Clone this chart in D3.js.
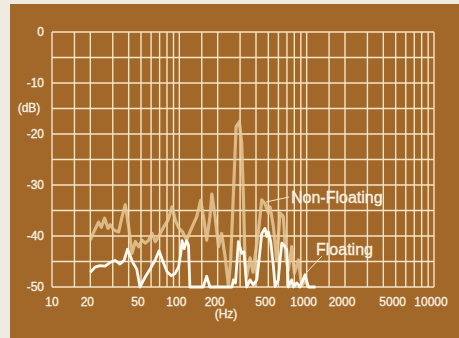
<!DOCTYPE html>
<html>
<head>
<meta charset="utf-8">
<script src="https://cdn.jsdelivr.net/npm/d3@7"></script>
<style>
  html, body { margin: 0; padding: 0; background: #eeebe3; }
  svg { display: block; }
  text { font-family: "Liberation Sans", Arial, sans-serif; fill: #fbf3e4; stroke: #fbf3e4; stroke-width: 0.3; }
</style>
</head>
<body>
<svg id="chart" width="459" height="338"></svg>
<script>
// tick labels
const xTickLabels = [10, 20, 50, 100, 200, 500, 1000, 2000, 5000, 10000];
const yTickLabels = [0, -10, -20, -30, -40, -50];
const yGrid = [0, -5, -10, -15, -20, -25, -30, -35, -40, -45, -50];
const xGrid = [10, 15, 20, 30, 40, 50, 60, 70, 80, 90,
               100, 150, 200, 300, 400, 500, 600, 700, 800, 900,
               1000, 1500, 2000, 3000, 4000, 5000, 6000, 7000, 8000, 9000, 10000];

// Non-Floating series (Hz, dB)
const nonFloatFreq = [20, 21.3, 23.2, 24.4, 25.9, 27.5, 28.7, 30.5, 33.4, 35.5, 37.6, 40, 42.5, 45.1, 48, 50.9,
  54.1, 57.5, 61, 64.8, 68.9, 75.4, 81.5, 87.6, 93, 98.9, 106, 114, 124, 137, 147, 155, 164, 174, 180,
  191, 203, 215, 229, 243, 253, 266, 279, 296, 309, 318, 328, 338, 359, 379, 400, 419, 444, 471, 500,
  516, 548, 582, 618, 656, 689, 718, 764, 801, 861, 915, 971, 1031];
const nonFloatDb = [-40.8, -39.2, -37.3, -38.3, -36.5, -38.5, -37.8, -38.8, -39.2, -36.2, -33.9, -38.2, -43.4, -41.1, -42.1, -40.8,
  -41.4, -40.8, -39.5, -41.1, -40.1, -38.2, -36.9, -34.3, -36.9, -38.4, -39.2, -40.8, -38.6, -36.2, -33.0, -36.3, -40.8, -36.2, -31.8,
  -36.2, -42.1, -39.5, -44.1, -49.8, -44.7, -31.6, -18.6, -17.6, -21.8, -31.6, -44.7, -48.0, -44.3, -47.1, -42.7, -38.8, -32.9, -33.7, -35.5,
  -34.3, -38.2, -44.7, -35.5, -36.2, -44.7, -46.7, -42.1, -47.3, -44.7, -49.9, -48.6, -50];

// Floating series (Hz, dB)
const floatFreq = [20, 21.8, 23.8, 26.1, 28.5, 31.3, 34.2, 36.8, 39.2, 43.1, 46.3, 49.1, 53.8, 58.9, 64.4, 69.3,
  75.2, 80.1, 86.5, 93, 98.9, 103, 105, 109, 114, 118, 121, 154, 164, 174, 259, 266, 276, 291, 309, 322,
  338, 359, 381, 406, 425, 444, 471, 486, 500, 522, 548, 565, 599, 618, 638, 664, 698, 718, 764, 786,
  836, 887, 971, 1031, 1175];
const floatDb = [-47.1, -46.1, -45.8, -45.9, -45.2, -44.8, -45.5, -44.8, -42.6, -45.2, -46.5, -50, -48.1, -46.5, -44.8, -42.9,
  -45.3, -47.0, -47.8, -47.3, -46.0, -43.1, -40.9, -42.5, -40.9, -41.8, -50, -50, -47.9, -50, -50, -48.6, -49.2, -41.1, -43.4, -43.1,
  -50, -48.6, -49.6, -48.6, -44.1, -39.5, -38.5, -40.1, -39.2, -41.1, -46.0, -49.9, -48.6, -44.7, -41.4, -41.8, -42.7, -50, -48.6, -50,
  -49.2, -50, -47.6, -50, -50];

const GRID = '#f6e5c6';
const BROWN = '#a16829';

const svg = d3.select('#chart');

// brown card
svg.append('rect')
    .attr('x', 10).attr('y', 4)
    .attr('width', 449).attr('height', 334)
    .attr('fill', BROWN);

const x = d3.scaleLog().domain([10, 10000]).range([52, 434]);
const y = d3.scaleLinear().domain([-50, 0]).range([287, 32]);

// grid
const grid = svg.append('g').attr('id', 'grid');
grid.selectAll('line.h')
    .data(yGrid)
    .enter()
    .append('line')
    .attr('class', 'h')
    .attr('x1', x(10)).attr('x2', x(10000))
    .attr('y1', d => y(d)).attr('y2', d => y(d))
    .attr('stroke', GRID)
    .attr('stroke-width', 1.4);

grid.selectAll('line.v')
    .data(xGrid)
    .enter()
    .append('line')
    .attr('class', 'v')
    .attr('x1', d => x(d)).attr('x2', d => x(d))
    .attr('y1', y(0)).attr('y2', y(-50))
    .attr('stroke', GRID)
    .attr('stroke-width', 1.4);

// tick labels
svg.append('g')
    .selectAll('text')
    .data(yTickLabels)
    .enter()
    .append('text')
    .attr('x', 44)
    .attr('y', d => y(d))
    .attr('text-anchor', 'end')
    .attr('dominant-baseline', 'central')
    .attr('font-size', 12)
    .text(d => d === 0 ? '0' : '-' + Math.abs(d));

svg.append('g')
    .selectAll('text')
    .data(xTickLabels)
    .enter()
    .append('text')
    .attr('x', d => d === 10 ? x(d) : x(d) - 3)
    .attr('y', 302)
    .attr('text-anchor', 'middle')
    .attr('dominant-baseline', 'central')
    .attr('font-size', 12)
    .text(d => d);

svg.append('text')
    .attr('x', 29).attr('y', 108)
    .attr('text-anchor', 'middle')
    .attr('dominant-baseline', 'central')
    .attr('font-size', 12)
    .text('(dB)');

svg.append('text')
    .attr('x', 226).attr('y', 314)
    .attr('text-anchor', 'middle')
    .attr('dominant-baseline', 'central')
    .attr('font-size', 12)
    .text('(Hz)');

// series
const line = d3.line()
    .x(d => x(d[0]))
    .y(d => y(d[1]));

const nonFloat = nonFloatFreq.map((f, i) => [f, nonFloatDb[i]]);
const floating = floatFreq.map((f, i) => [f, floatDb[i]]);

svg.append('path')
    .datum(nonFloat)
    .attr('d', line)
    .attr('fill', 'none')
    .attr('stroke', '#e6c895')
    .attr('stroke-opacity', 0.85)
    .attr('stroke-width', 3.2)
    .attr('stroke-linejoin', 'round');

svg.append('path')
    .datum(floating)
    .attr('d', line)
    .attr('fill', 'none')
    .attr('stroke', '#fffbf2')
    .attr('stroke-width', 2.8)
    .attr('stroke-linejoin', 'round');

// annotations
const notes = svg.append('g').attr('id', 'notes');
notes.append('line')
    .attr('x1', 289).attr('y1', 197)
    .attr('x2', 266).attr('y2', 202)
    .attr('stroke', '#f4e6cc').attr('stroke-width', 1);
notes.append('text')
    .attr('x', 291).attr('y', 197)
    .attr('dominant-baseline', 'central')
    .attr('font-size', 16)
    .attr('stroke-width', 0.45)
    .text('Non-Floating');

notes.append('line')
    .attr('x1', 322).attr('y1', 256)
    .attr('x2', 307).attr('y2', 272)
    .attr('stroke', '#f4e6cc').attr('stroke-width', 1);
notes.append('text')
    .attr('x', 316).attr('y', 249)
    .attr('dominant-baseline', 'central')
    .attr('font-size', 16)
    .attr('stroke-width', 0.45)
    .text('Floating');
</script>
</body>
</html>
